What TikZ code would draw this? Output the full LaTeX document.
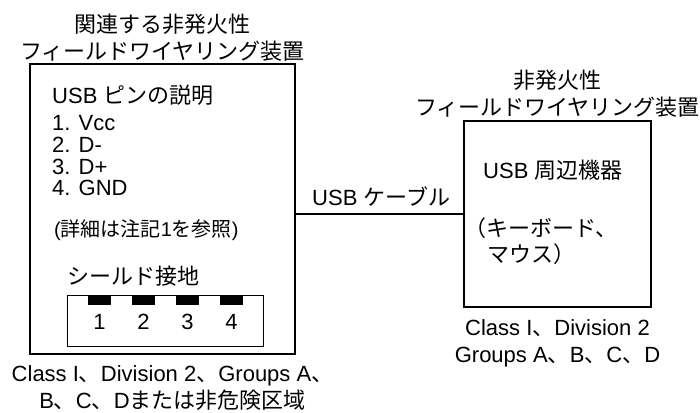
\documentclass[tikz,border=0pt]{standalone}
\usepackage{fontspec}
\setmainfont{Liberation Sans}
\newfontfamily\cjk{Noto Sans CJK JP}
\usetikzlibrary{positioning}
\newcommand{\jp}[1]{{\cjk #1}}
\begin{document}
\begin{tikzpicture}[x=1pt,y=-1pt]
\tikzset{
    unit/.style={
           draw,
           line width=2.5pt,
           outer sep=0pt,
           inner sep=0pt},
    caption/.style={
           align=center,
           inner sep=0pt,
           font=\fontsize{22}{27}\selectfont},
    entry/.style={
           anchor=west,
           inner sep=0pt,
           text height=16pt,
           text depth=4pt,
           font=\fontsize{22}{26}\selectfont},
    contact/.style={
           fill=black,
           anchor=north west,
           minimum width=23pt,
           minimum height=10pt,
           inner sep=0pt,
           outer sep=0pt}
}
\useasboundingbox (0,0) rectangle (700,412);
% the two boxes and the cable
\node[unit,minimum width=265pt,minimum height=290pt] (host) at (162.5,209) {};
\node[unit,minimum width=187pt,minimum height=186pt] (device) at (557.5,214) {};
\draw[line width=2pt] (device.west) -- (device.west -| host.east);
\node[caption,above=7pt of device.west -| host.east,anchor=south west,xshift=17pt] (cable) {USB \jp{ケーブル}};
% captions
\node[caption,above=2pt of host] (hosttitle) {\jp{関連する非発火性}\\\jp{フィールドワイヤリング装置}};
\node[caption,above=3pt of device] (devicetitle) {\jp{非発火性}\\\jp{フィールドワイヤリング装置}};
\node[caption,below=11pt of host,xshift=10pt] (hostarea) {Class I\jp{、}Division 2\jp{、}Groups A\jp{、}\\B\jp{、}C\jp{、}D\jp{または非危険区域}};
\node[caption,below=12pt of device] (devicearea) {Class I\jp{、}Division 2\\Groups A\jp{、}B\jp{、}C\jp{、}D};
% pin list
\node[entry,below right=23pt and 22pt of host.north west,anchor=north west] (pintitle) {USB \jp{ピンの説明}};
\node[entry,below=7pt of pintitle.south west,anchor=north west] (vcc) {1. Vcc};
\node[entry,below=1pt of vcc.south west,anchor=north west] (dminus) {2. D-};
\node[entry,below=2pt of dminus.south west,anchor=north west] (dplus) {3. D+};
\node[entry,below=1pt of dplus.south west,anchor=north west] (gnd) {4. GND};
\node[entry,below=20pt of gnd.south west,anchor=north west,xshift=2pt,font=\fontsize{20}{24}\selectfont] (note) {(\jp{詳細は注記}1\jp{を参照})};
% socket
\node[draw,line width=1pt,anchor=south west,minimum width=196pt,minimum height=51pt,outer sep=0pt,inner sep=0pt] (socket) at (67,346) {};
\node[entry,above=6pt of socket.north west,anchor=south west] (shield) {\jp{シールド接地}};
\foreach \n/\dx in {1/21,2/65,3/109,4/153}{
    \node[contact,below right=0pt and \dx pt of socket.north west] (pin\n) {};
    \node[caption,below=9pt of pin\n] (num\n) {\n};
}
% device text
\node[entry,below right=41pt and 19pt of device.north west,anchor=north west] (periph) {USB \jp{周辺機器}};
\node[entry,below=38pt of periph.south west,anchor=north west,xshift=-19pt] (keyboard) {\jp{（キーボード、}};
\node[entry,below=5pt of keyboard.south west,anchor=north west,xshift=23pt] (mouse) {\jp{マウス）}};
\end{tikzpicture}
\end{document}
